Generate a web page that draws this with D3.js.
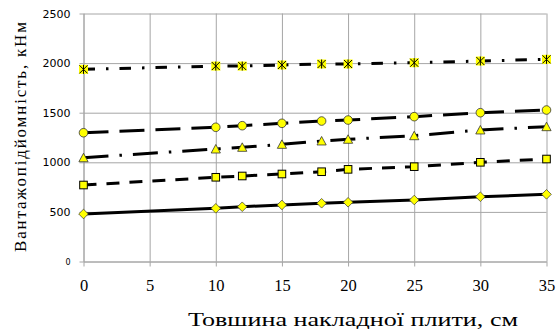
<!DOCTYPE html>
<html>
<head>
<meta charset="utf-8">
<script src="https://cdn.jsdelivr.net/npm/d3@7"></script>
<style>
  body { margin: 0; background: #fff; }
  svg { display: block; }
</style>
</head>
<body>
<div id="chart"></div>
<script>
const WIDTH = 558;
const HEIGHT = 329;

// thickness of the overlay slab, cm
const thickness = [0, 10, 12, 15, 18, 20, 25, 30, 35];

// load capacity, kNm (one array per curve)
const diamondSeries = [479, 536, 552, 570, 587, 597, 620, 653, 677];
const squareSeries = [771, 849, 862, 882, 905, 929, 956, 1000, 1033];
const triangleSeries = [1046, 1134, 1151, 1181, 1215, 1232, 1268, 1326, 1359];
const circleSeries = [1298, 1353, 1369, 1393, 1416, 1426, 1460, 1500, 1527];
const starSeries = [1937, 1970, 1970, 1981, 1991, 1991, 2004, 2021, 2038];

const xTicks = [0, 5, 10, 15, 20, 25, 30, 35];
const yTicks = [0, 500, 1000, 1500, 2000, 2500];

const xTitle = "Товшина накладної плити, см";
const yTitle = "Вантажопідйомність, кНм";

let margin = {left: 83.5, right: 11.5, top: 13.5, bottom: 67.5};
let serif = "Liberation Serif, Times New Roman, serif";

let svg = d3.select("#chart")
    .append("svg")
    .attr("width", WIDTH)
    .attr("height", HEIGHT);

let x = d3.scaleLinear()
    .domain([0, 35])
    .range([margin.left, WIDTH - margin.right]);

let y = d3.scaleLinear()
    .domain([0, 2500])
    .range([HEIGHT - margin.bottom, margin.top]);

let gridColor = "#a6a6a6";

// grid
svg.append("g")
    .attr("transform", `translate(0,${y(0)})`)
    .call(d3.axisBottom(x).tickValues(xTicks).tickSize(y(2500) - y(0)).tickFormat(""))
    .call(g => g.select(".domain").remove())
    .selectAll("line").attr("stroke", gridColor);

svg.append("g")
    .attr("transform", `translate(${x(0)},0)`)
    .call(d3.axisLeft(y).tickValues(yTicks).tickSize(x(0) - x(35)).tickFormat(""))
    .call(g => g.select(".domain").remove())
    .selectAll("line").attr("stroke", gridColor);

// axes
let xAxis = svg.append("g")
    .attr("transform", `translate(0,${y(0)})`)
    .call(d3.axisBottom(x).tickValues(xTicks).tickSize(5).tickSizeOuter(0).tickPadding(13).tickFormat(d3.format("d")));
xAxis.select(".domain").attr("stroke", gridColor);
xAxis.selectAll(".tick line").attr("stroke", gridColor);
xAxis.selectAll("text")
    .attr("font-family", serif)
    .attr("font-size", 16.5)
    .attr("fill", "#000");

let yAxis = svg.append("g")
    .attr("transform", `translate(${x(0)},0)`)
    .call(d3.axisLeft(y).tickValues(yTicks).tickSize(4).tickSizeOuter(0).tickPadding(9).tickFormat(d3.format("d")));
yAxis.select(".domain").attr("stroke", gridColor);
yAxis.selectAll(".tick line").attr("stroke", gridColor);
yAxis.selectAll("text")
    .attr("font-family", "DejaVu Sans, Verdana, sans-serif")
    .attr("font-size", d => d === 0 ? 8 : 11)
    .attr("fill", "#000");

// lines
let line = d3.line()
    .x((d, i) => x(thickness[i]))
    .y(d => y(d));

function drawLine(values, dash) {
    svg.append("path")
        .datum(values)
        .attr("d", line)
        .attr("fill", "none")
        .attr("stroke", "#000")
        .attr("stroke-width", 3)
        .attr("stroke-dasharray", dash);
}

drawLine(diamondSeries, null);
drawLine(squareSeries, "13,10");
drawLine(triangleSeries, "25,11,2.5,11");
drawLine(circleSeries, "25,11");
drawLine(starSeries, "11.5,11,2.5,11");

// markers
let yellow = "#ffff00";

function markers(values) {
    return svg.append("g")
        .selectAll("g")
        .data(values)
        .enter()
        .append("g")
        .attr("transform", (d, i) => `translate(${x(thickness[i])},${y(d)})`);
}

markers(diamondSeries).append("path")
    .attr("d", "M0,-4.8L4.8,0L0,4.8L-4.8,0Z")
    .attr("fill", yellow).attr("stroke", "#333").attr("stroke-width", 0.7);

markers(squareSeries).append("rect")
    .attr("x", -3.8).attr("y", -3.8).attr("width", 7.6).attr("height", 7.6)
    .attr("fill", yellow).attr("stroke", "#000").attr("stroke-width", 1);

markers(triangleSeries).append("path")
    .attr("d", "M0,-4.5L4.6,4L-4.6,4Z")
    .attr("fill", yellow).attr("stroke", "#333").attr("stroke-width", 0.8);

markers(circleSeries).append("circle")
    .attr("r", 4.3)
    .attr("fill", yellow).attr("stroke", "#333").attr("stroke-width", 0.8);

let stars = markers(starSeries);
stars.append("rect")
    .attr("x", -4.5).attr("y", -4.5).attr("width", 9).attr("height", 9)
    .attr("fill", yellow);
stars.append("path")
    .attr("d", "M-4,-4L4,4M4,-4L-4,4M0,-4.5L0,4.5")
    .attr("stroke", "#000").attr("stroke-width", 1).attr("fill", "none");

// titles
svg.append("text")
    .attr("x", 188)
    .attr("y", 326)
    .attr("textLength", 330)
    .attr("lengthAdjust", "spacingAndGlyphs")
    .attr("font-family", serif)
    .attr("font-size", 18)
    .attr("fill", "#000")
    .text(xTitle);

svg.append("text")
    .attr("transform", "translate(26,252) rotate(-90)")
    .attr("textLength", 230)
    .attr("lengthAdjust", "spacing")
    .attr("font-family", serif)
    .attr("font-size", 17)
    .attr("fill", "#000")
    .text(yTitle);
</script>
</body>
</html>
